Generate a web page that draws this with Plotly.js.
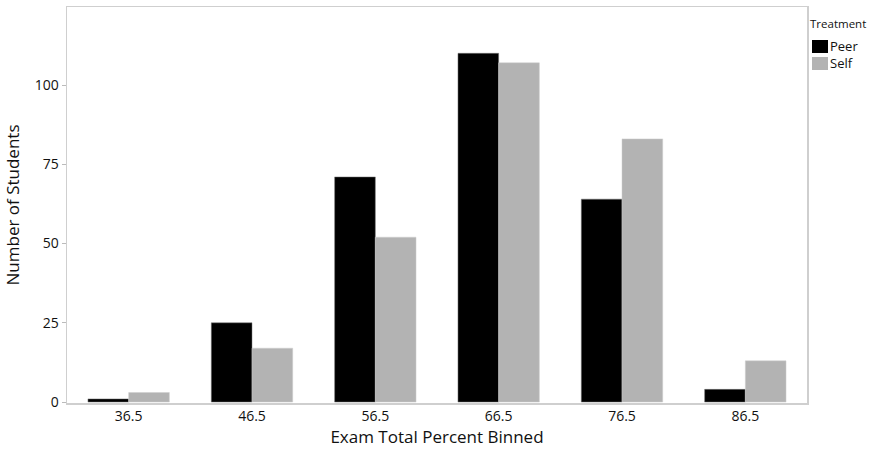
<!DOCTYPE html>
<html>
<head>
<meta charset="utf-8">
<script src="https://cdn.plot.ly/plotly-3.0.1.min.js"></script>
<style>html,body{margin:0;padding:0;background:#fff;}#chart{width:869px;height:450px;}</style>
</head>
<body>
<div id="chart"></div>
<script>
const categories = ["36.5", "46.5", "56.5", "66.5", "76.5", "86.5"];
const peerValues = [1, 25, 71, 110, 64, 4];
const selfValues = [3, 17, 52, 107, 83, 13];
const yTickVals = [0, 25, 50, 75, 100];
const seriesNames = ["Peer", "Self"];
const seriesColors = ["#000000", "#b3b3b3"];
const legendTitle = "Treatment";

const font = "Open Sans, Lato, sans-serif";
const W = 869, H = 450;
const M = {l: 67, r: 62, t: 7, b: 47};
// convert page pixels to paper coordinates (for the hand-built legend)
const px = v => (v - M.l) / (W - M.l - M.r);
const py = v => (H - M.b - v) / (H - M.t - M.b);

const data = [
  {type: "bar", name: seriesNames[0], x: categories, y: peerValues,
   marker: {color: seriesColors[0], line: {color: "#7a7a7a", width: 0.5}}},
  {type: "bar", name: seriesNames[1], x: categories, y: selfValues,
   marker: {color: seriesColors[1], line: {color: "#cfcfcf", width: 0.5}}}
];

const shapes = [], annotations = [];
annotations.push({xref: "paper", yref: "paper", x: px(809), y: py(23), xanchor: "left", yanchor: "middle",
  text: legendTitle, showarrow: false, borderpad: 0, font: {size: 11.5, family: font, color: "#111"}});
seriesNames.forEach((n, i) => {
  const top = 40 + i * 17;
  shapes.push({type: "rect", xref: "paper", yref: "paper", x0: px(812), x1: px(828), y0: py(top), y1: py(top + 13),
    fillcolor: seriesColors[i], line: {width: 0}});
  annotations.push({xref: "paper", yref: "paper", x: px(828), y: py(top + 6.5), xanchor: "left", yanchor: "middle",
    text: n, showarrow: false, font: {size: 13, family: font, color: "#111"}});
});

const layout = {
  width: W, height: H,
  margin: M,
  paper_bgcolor: "#fff", plot_bgcolor: "#fff",
  barmode: "group", bargap: 0.34, bargroupgap: 0,
  font: {family: font, color: "#111", size: 14},
  showlegend: false,
  xaxis: {
    type: "category",
    title: {text: "Exam Total Percent Binned", font: {size: 17, family: font, color: "#111"}, standoff: 6},
    showline: true, linecolor: "#cfcfcf", linewidth: 1.5, mirror: true,
    ticks: "", showgrid: false, zeroline: false,
    tickfont: {size: 14, family: font}
  },
  yaxis: {
    title: {text: "Number of Students", font: {size: 17, family: font, color: "#111"}, standoff: 10},
    range: [-0.3, 124.6],
    tickvals: yTickVals,
    showline: true, linecolor: "#cfcfcf", linewidth: 1.5, mirror: true,
    ticks: "outside", ticklen: 4, tickcolor: "#bbbbbb",
    showgrid: false, zeroline: false,
    tickfont: {size: 14, family: font}
  },
  shapes: shapes,
  annotations: annotations
};

Plotly.newPlot("chart", data, layout, {displayModeBar: false, staticPlot: true});
</script>
</body>
</html>
